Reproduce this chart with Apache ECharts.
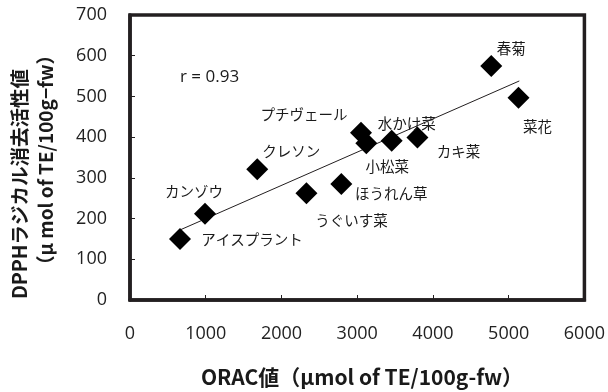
<!DOCTYPE html>
<html>
<head>
<meta charset="utf-8">
<script src="https://cdn.jsdelivr.net/npm/echarts@6/dist/echarts.min.js"></script>
<style>html,body{margin:0;padding:0;background:#fff}#c{width:608px;height:392px}</style>
</head>
<body>
<div id="c"></div>
<script>
// Data
const names = ['アイスプラント','カンゾウ','クレソン','うぐいす菜','ほうれん草','プチヴェール','小松菜','水かけ菜','カキ菜','春菊','菜花'];
const oracValues = [660, 990, 1680, 2330, 2790, 3050, 3120, 3455, 3795, 4770, 5130];
const dpphValues = [150, 212, 321, 262, 285, 411, 385, 391, 399, 575, 497];
const trendX = [660, 5140];
const trendY = [172, 538];
const xTicks = [0, 1000, 2000, 3000, 4000, 5000, 6000];
const yTicks = [0, 100, 200, 300, 400, 500, 600, 700];
const rText = 'r = 0.93';

// Label placement (layout only), pixel offsets from each point
const labelOffsets = [[72,1],[-11,-22],[34,-18],[45,27],[50,10],[-57,-18],[21,23],[15,-17],[41,14],[20,-17],[19,29]];

const ink = '#231f20';
const chart = echarts.init(document.getElementById('c'));
chart.setOption({
  animation: false,
  backgroundColor: '#fff',
  grid: {left: 130, right: 22, top: 15, bottom: 92, show: true, borderColor: ink, borderWidth: 3.5, backgroundColor: 'transparent'},
  xAxis: {
    type: 'value', min: xTicks[0], max: xTicks[xTicks.length-1], interval: 1000,
    axisLine: {show: true, onZero: false, lineStyle: {color: ink, width: 3.5}},
    axisTick: {show: true, inside: true, length: 5, lineStyle: {color: ink, width: 1}},
    splitLine: {show: false},
    axisLabel: {color: '#222', fontFamily: 'Open Sans', fontSize: 18, margin: 25, formatter: v => String(v)}
  },
  yAxis: {
    type: 'value', min: yTicks[0], max: yTicks[yTicks.length-1], interval: 100,
    axisLine: {show: true, onZero: false, lineStyle: {color: ink, width: 3.5}},
    axisTick: {show: true, inside: true, length: 5, lineStyle: {color: ink, width: 1}},
    splitLine: {show: false},
    axisLabel: {color: '#222', fontFamily: 'Open Sans', fontSize: 18, margin: 23, formatter: v => String(v)}
  },
  series: [
    {
      type: 'line', data: trendX.map((x,i)=>[x, trendY[i]]), symbol: 'none',
      lineStyle: {color: ink, width: 1}, z: 1, silent: true
    },
    {
      type: 'scatter', symbol: 'diamond', symbolSize: 22, z: 2,
      itemStyle: {color: '#000', opacity: 1},
      data: names.map((n,i)=>({
        value: [oracValues[i], dpphValues[i]], name: n,
        label: {show: true, position: 'inside', offset: labelOffsets[i], formatter: n,
          color: '#1a1a1a', fontFamily: 'Noto Sans CJK JP', fontSize: 14.5}
      }))
    }
  ],
  graphic: [
    {type: 'text', left: 180, top: 69, style: {text: rText, fill: '#1a1a1a', font: '17px "Open Sans"'}},
    {type: 'text', x: 20, y: 184, rotation: Math.PI/2,
      style: {text: 'DPPHラジカル消去活性値', fill: '#1a1a1a', font: 'bold 19.5px "Noto Sans CJK JP"', align: 'center', verticalAlign: 'middle'}},
    {type: 'text', x: 46, y: 160, rotation: Math.PI/2,
      style: {text: '（μ mol of TE/100g−fw）', fill: '#1a1a1a', font: 'bold 19px "Noto Sans CJK JP"', align: 'center', verticalAlign: 'middle'}},
    {type: 'text', x: 362, y: 377,
      style: {text: 'ORAC値（μmol of TE/100g-fw）', fill: '#1a1a1a', font: 'bold 21px "Noto Sans CJK JP"', align: 'center', verticalAlign: 'middle'}}
  ]
});
</script>
</body>
</html>
